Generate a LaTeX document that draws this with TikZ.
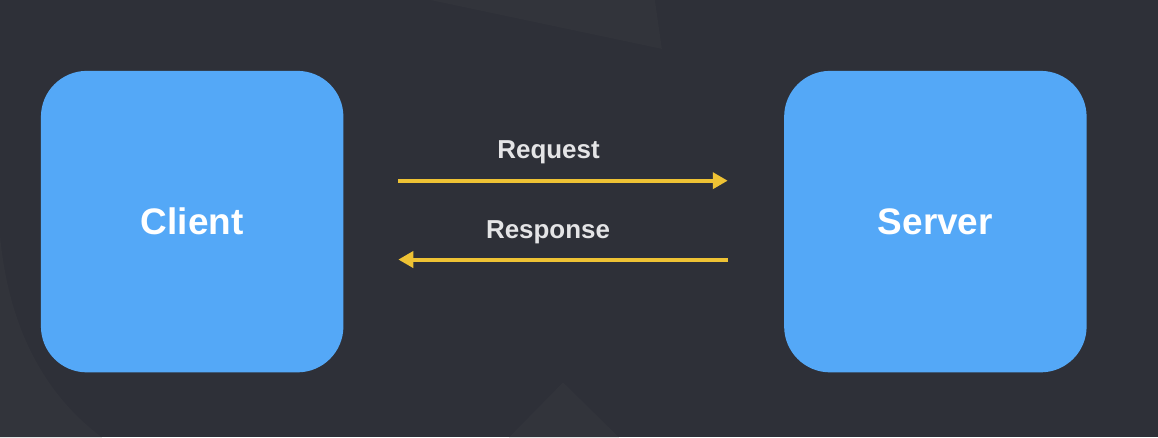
\documentclass[tikz,border=0pt]{standalone}
\usepackage{fontspec}
\setmainfont{Liberation Sans}
\usetikzlibrary{arrows.meta}
\definecolor{bg}{HTML}{2E3038}
\definecolor{bglight}{HTML}{32343B}
\definecolor{boxblue}{HTML}{54A8F7}
\definecolor{arrowyellow}{HTML}{EEC234}
\definecolor{labelgray}{HTML}{E4E4E6}
\tikzset{
  hostbox/.style={fill=boxblue, draw=none, rounded corners=46pt, minimum width=303pt, minimum height=302pt, inner sep=0pt, text=white, font=\fontsize{37}{40}\selectfont\bfseries},
  msglabel/.style={text=labelgray, anchor=base, inner sep=0pt, font=\fontsize{26}{30}\selectfont\bfseries},
  msgarrow/.style={draw=arrowyellow, line width=4pt, -{Triangle[length=15pt,width=16pt]}}
}
\begin{document}
\begin{tikzpicture}[x=1pt,y=-1pt]
\fill[bg] (-1,-1) rectangle (1159,437);
\useasboundingbox (0,0) rectangle (1158,436);
% faint background shapes
\fill[bglight] (430,-1) -- (662,48) -- (655,-1) -- cycle;
\fill[bglight] (563,382) -- (509,437) -- (619,437) -- cycle;
\fill[bglight] (-1,235) .. controls (8,330) and (45,395) .. (101,437) -- (-1,437) -- cycle;
% hosts
\node[hostbox] (client) at (191.5,221) {Client};
\node[hostbox] (server) at (936,221) {Server};
% connector ends
\coordinate (reqA) at (398,180);
\coordinate (reqB) at (728,180);
\coordinate (resA) at (728,259);
\coordinate (resB) at (398,259);
\draw[msgarrow] (reqA) -- (reqB);
\draw[msgarrow] (resA) -- (resB);
\node[msglabel] (req) at (548.5,158) {Request};
\node[msglabel] (res) at (548,238) {Response};
\end{tikzpicture}
\end{document}
